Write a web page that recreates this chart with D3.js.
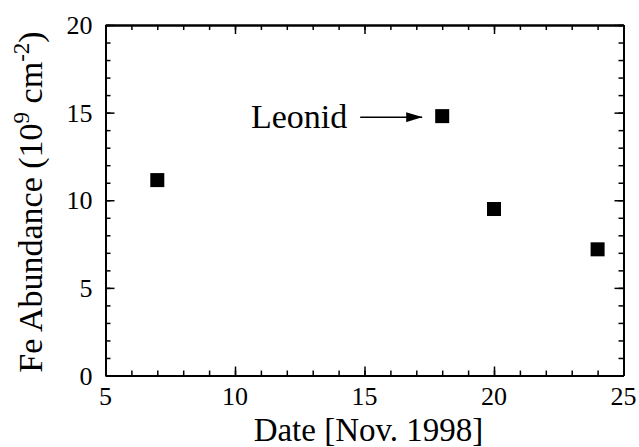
<!DOCTYPE html>
<html><head><meta charset="utf-8">
<script src="https://cdn.jsdelivr.net/npm/d3@7"></script>
</head><body style="margin:0"><svg id="c" width="639" height="447" font-family="Liberation Serif"></svg>
<script>
const dates = [7, 18, 20, 24];
const feAbundance = [11.15, 14.8, 9.5, 7.2];
const xTicks = [5, 10, 15, 20, 25];
const yTicks = [0, 5, 10, 15, 20];
const annotation = "Leonid";
const FONT = "'Liberation Serif'";

const svg = d3.select("#c");
const L = 105.5, R = 623.5, T = 25, B = 375.5;
const x = d3.scaleLinear().domain([5, 25]).range([L, R]);
const y = d3.scaleLinear().domain([0, 20]).range([B, T]);

function txt(sel, size) {
  return sel.attr("font-family", "Liberation Serif").style("font-family", FONT).style("font-size", size + "px").attr("fill", "#000");
}
const g = svg.append("g");
const minorX = d3.range(5, 26, 1), minorY = d3.range(0, 21, 1);
function addAxis(axisGen, tx, ty, ticks, size) {
  const a = g.append("g").attr("transform", `translate(${tx},${ty})`)
    .call(axisGen.tickValues(ticks).tickSize(size).tickSizeOuter(0).tickFormat(""));
  a.select(".domain").attr("stroke", "#000").attr("stroke-width", 2);
  a.selectAll(".tick line").attr("stroke", "#000").attr("stroke-width", 1.5);
  return a;
}
addAxis(d3.axisTop(x), 0, B, minorX, 5);
addAxis(d3.axisTop(x), 0, B, xTicks, 9);
addAxis(d3.axisBottom(x), 0, T, minorX, 5);
addAxis(d3.axisBottom(x), 0, T, xTicks, 9);
addAxis(d3.axisRight(y), L, 0, minorY, 5);
addAxis(d3.axisRight(y), L, 0, yTicks, 9);
addAxis(d3.axisLeft(y), R, 0, minorY, 5);
addAxis(d3.axisLeft(y), R, 0, yTicks, 9);

txt(svg.append("g").selectAll("text").data(xTicks).join("text")
  .attr("x", d => x(d)).attr("y", B + 29).attr("text-anchor", "middle").text(d => d), 26);
txt(svg.append("g").selectAll("text").data(yTicks).join("text")
  .attr("x", L - 13).attr("y", d => y(d) + 9).attr("text-anchor", "end").text(d => d), 26);

const sq = 14;
svg.append("g").selectAll("rect").data(dates).join("rect")
  .attr("x", (d) => x(d) - sq / 2)
  .attr("y", (d, i) => y(feAbundance[i]) - sq / 2)
  .attr("width", sq).attr("height", sq).attr("fill", "#000");

svg.append("defs").append("marker").attr("id", "ah").attr("viewBox", "0 0 10 10")
  .attr("refX", 10).attr("refY", 5).attr("markerWidth", 16).attr("markerHeight", 10)
  .attr("markerUnits", "userSpaceOnUse").attr("orient", "auto").attr("preserveAspectRatio", "none")
  .append("path").attr("d", "M0,0L10,5L0,10z").attr("fill", "#000");
const ay = y(feAbundance[1]) + 1;
svg.append("line").attr("x1", x(18) - 82).attr("x2", x(18) - 20).attr("y1", ay).attr("y2", ay)
  .attr("stroke", "#000").attr("stroke-width", 1.5).attr("marker-end", "url(#ah)");
txt(svg.append("text").attr("x", x(18) - 95).attr("y", ay + 11).attr("text-anchor", "end"), 34).text(annotation);

txt(svg.append("text").attr("x", 368.5).attr("y", 441).attr("text-anchor", "middle"), 33).text("Date [Nov. 1998]");
const yt = txt(svg.append("text").attr("transform", `translate(42,202) rotate(-90)`)
  .attr("text-anchor", "middle"), 34);
yt.append("tspan").text("Fe Abundance (10");
yt.append("tspan").attr("dy", -13).style("font-size", "23px").text("9");
yt.append("tspan").attr("dy", 13).text(" cm");
yt.append("tspan").attr("dy", -13).style("font-size", "23px").text("-2");
yt.append("tspan").attr("dy", 13).text(")");
</script></body></html>
